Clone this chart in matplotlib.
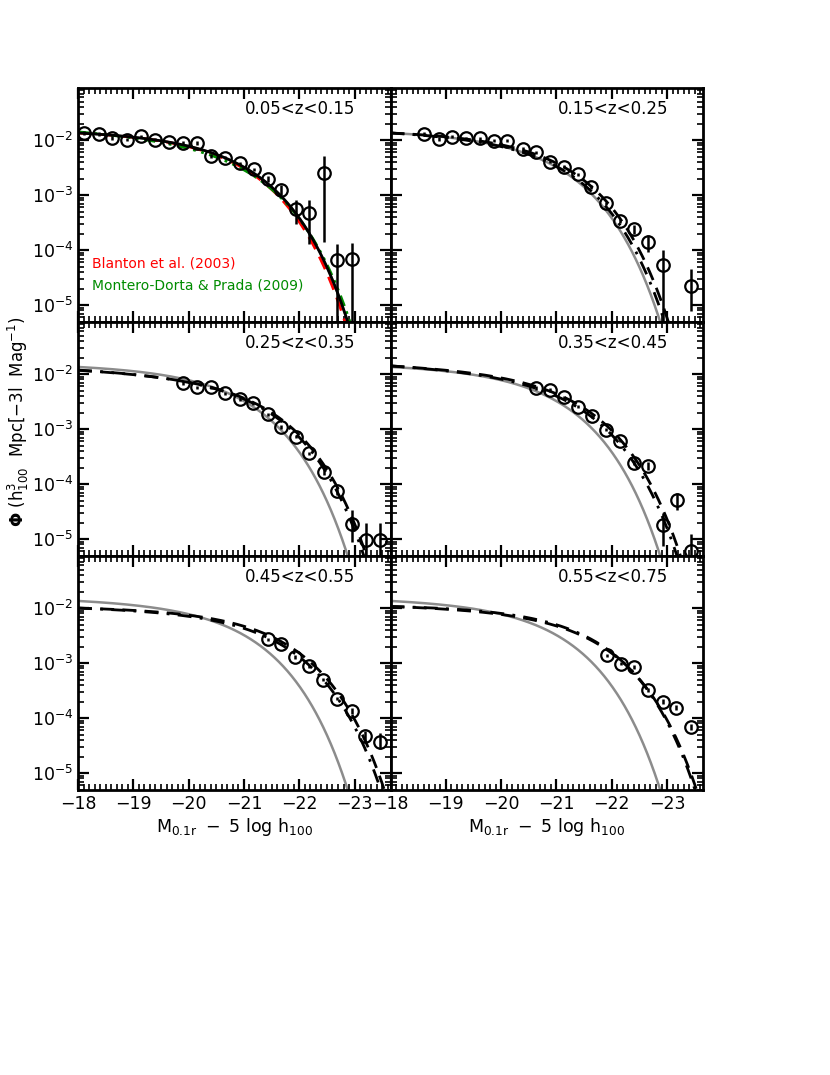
import numpy as np
import matplotlib
matplotlib.use("Agg")
import matplotlib.pyplot as plt
from matplotlib.ticker import MultipleLocator, LogLocator, LogFormatterMathtext, NullFormatter

# ---- data (log10 phi, errors in dex) ----
z_labels = ["0.05<z<0.15", "0.15<z<0.25", "0.25<z<0.35",
            "0.35<z<0.45", "0.45<z<0.55", "0.55<z<0.75"]

M1 = [-18.10, -18.38, -18.62, -18.88, -19.13, -19.39, -19.64, -19.90, -20.16, -20.41,
      -20.65, -20.92, -21.18, -21.43, -21.67, -21.94, -22.18, -22.45, -22.69, -22.96]
L1 = [-1.87, -1.89, -1.96, -1.99, -1.93, -1.99, -2.04, -2.05, -2.05, -2.29,
      -2.32, -2.42, -2.53, -2.70, -2.90, -3.26, -3.33, -2.59, -4.18, -4.17]
LO1 = [0.03] * 13 + [0.06, 0.10, 0.27, 0.55, 1.26, 3.0, 3.0]
HI1 = [0.03] * 13 + [0.05, 0.08, 0.18, 0.24, 0.30, 0.30, 0.30]

M2 = [-18.61, -18.87, -19.12, -19.37, -19.62, -19.88, -20.10, -20.39, -20.63, -20.88,
      -21.13, -21.39, -21.63, -21.89, -22.15, -22.41, -22.66, -22.92, -23.43]
L2 = [-1.89, -1.98, -1.94, -1.97, -1.97, -2.01, -2.01, -2.16, -2.22, -2.39,
      -2.48, -2.62, -2.85, -3.15, -3.47, -3.62, -3.85, -4.27, -4.65]
LO2 = [0.03] * 15 + [0.08, 0.18, 3.0, 0.45]
HI2 = [0.03] * 15 + [0.08, 0.12, 0.27, 0.30]

M3 = [-19.90, -20.15, -20.41, -20.65, -20.92, -21.16, -21.43, -21.67, -21.94, -22.18,
      -22.45, -22.69, -22.96, -23.20, -23.46]
L3 = [-2.16, -2.24, -2.24, -2.35, -2.45, -2.53, -2.73, -2.96, -3.14, -3.44,
      -3.78, -4.12, -4.73, -5.01, -5.01]
LO3 = [0.03] * 10 + [0.05, 0.07, 0.33, 3.0, 3.0]
HI3 = [0.03] * 10 + [0.05, 0.07, 0.26, 0.30, 0.30]

M4 = [-20.63, -20.88, -21.13, -21.39, -21.64, -21.90, -22.15, -22.41, -22.66, -22.92,
      -23.18, -23.43]
L4 = [-2.25, -2.29, -2.42, -2.59, -2.77, -3.01, -3.21, -3.61, -3.67, -4.74,
      -4.29, -5.21]
LO4 = [0.03] * 7 + [0.05, 0.07, 0.38, 0.18, 3.0]
HI4 = [0.03] * 7 + [0.05, 0.07, 0.22, 0.12, 0.30]

M5 = [-21.43, -21.67, -21.93, -22.18, -22.43, -22.68, -22.95, -23.19, -23.46]
L5 = [-2.57, -2.65, -2.89, -3.06, -3.30, -3.65, -3.87, -4.32, -4.43]
LO5 = [0.03] * 6 + [0.05, 0.09, 0.14]
HI5 = [0.03] * 6 + [0.05, 0.09, 0.16]

M6 = [-21.92, -22.16, -22.41, -22.65, -22.92, -23.16, -23.43]
L6 = [-2.86, -3.01, -3.07, -3.49, -3.70, -3.81, -4.16]
LO6 = [0.03, 0.03, 0.03, 0.04, 0.05, 0.05, 0.06]
HI6 = [0.03, 0.03, 0.03, 0.04, 0.05, 0.05, 0.06]

# Schechter parameters (phi*, M*, alpha) estimated from the curves
gray_par = (0.01415, -20.65, -1.05)
blanton_par = (0.01425, -20.60, -1.05)
mdp_par = (0.01137, -20.75, -1.15)
dashed_par = [None,
              (0.01389, -20.80, -1.05),
              (0.01023, -21.05, -1.10),
              (0.01229, -21.05, -1.10),
              (0.01037, -21.35, -1.03),
              (0.01044, -21.35, -1.05)]
dashdot_par = [None,
               (0.01295, -20.75, -1.08),
               (0.01040, -21.00, -1.10),
               (0.01172, -21.00, -1.12),
               (0.00979, -21.30, -1.05),
               (0.01148, -21.30, -1.02)]

panels = [(M1, L1, LO1, HI1), (M2, L2, LO2, HI2), (M3, L3, LO3, HI3),
          (M4, L4, LO4, HI4), (M5, L5, LO5, HI5), (M6, L6, LO6, HI6)]


def schechter(M, par):
    phistar, Mstar, alpha = par
    x = 10 ** (-0.4 * (M - Mstar))
    return 0.4 * np.log(10) * phistar * x ** (alpha + 1) * np.exp(-x)


Mgrid = np.linspace(-18.0, -23.8, 600)

fig, axes = plt.subplots(3, 2, figsize=(8.3, 10.75), dpi=100)
fig.subplots_adjust(left=0.094, right=0.847, top=0.918, bottom=0.265,
                    wspace=0, hspace=0)

for i, ax in enumerate(axes.flat):
    M, L, lo, hi = [np.array(a) for a in panels[i]]
    ax.set_yscale("log")

    ax.plot(Mgrid, schechter(Mgrid, gray_par), color="#8c8c8c", lw=1.8, zorder=1)
    if i == 0:
        ax.plot(Mgrid, schechter(Mgrid, blanton_par), color="red", lw=2,
                ls=(0, (5, 3)), zorder=2)
        ax.plot(Mgrid, schechter(Mgrid, mdp_par), color="#008c00", lw=2,
                ls=(0, (4, 2, 1, 2, 1, 2)), zorder=2)
        ax.plot(Mgrid, schechter(Mgrid, gray_par), color="black", lw=2, zorder=3)
    else:
        ax.plot(Mgrid, schechter(Mgrid, dashed_par[i]), color="black", lw=2,
                ls=(0, (5, 3)), zorder=2)
        ax.plot(Mgrid, schechter(Mgrid, dashdot_par[i]), color="black", lw=2,
                ls=(0, (5, 3, 1, 3)), zorder=2)

    phi = 10 ** L
    yerr = [phi - 10 ** (L - lo), 10 ** (L + hi) - phi]
    ax.errorbar(M, phi, yerr=yerr, fmt="o", ms=9, mfc="none", mec="black",
                mew=1.6, ecolor="black", elinewidth=1.8, capsize=0, zorder=4)

    ax.set_xlim(-18.0, -23.65)
    ax.set_ylim(10 ** -5.31, 10 ** -1.055)
    ax.xaxis.set_major_locator(MultipleLocator(1))
    ax.xaxis.set_minor_locator(MultipleLocator(0.1))
    ax.yaxis.set_major_locator(LogLocator(base=10, numticks=10))
    ax.yaxis.set_minor_locator(LogLocator(base=10, subs=np.arange(2, 10), numticks=10))
    ax.yaxis.set_major_formatter(LogFormatterMathtext())
    ax.yaxis.set_minor_formatter(NullFormatter())
    ax.tick_params(which="both", direction="in", top=True, right=True, labelsize=12.5)
    ax.tick_params(which="major", length=8, width=1.6)
    ax.tick_params(which="minor", length=4, width=1.2)
    for s in ax.spines.values():
        s.set_linewidth(2)

    if i % 2 == 1:
        ax.set_yticklabels([])
    if i < 4:
        ax.set_xticklabels([])
    else:
        ax.set_xlabel(r"$\mathrm{M_{0.1r}\ -\ 5\ log\ h_{100}}$", fontsize=12.5, labelpad=2)

    ax.text(0.535, 0.91, z_labels[i], transform=ax.transAxes, fontsize=12,
            ha="left", va="center")

axes[0, 0].text(0.044, 0.252, "Blanton et al. (2003)", color="red", fontsize=10,
                transform=axes[0, 0].transAxes, va="center")
axes[0, 0].text(0.044, 0.158, "Montero-Dorta & Prada (2009)", color="#008c00", fontsize=10,
                transform=axes[0, 0].transAxes, va="center")

fig.text(0.022, 0.608, r"$\mathbf{\Phi}\ \mathrm{(h^3_{100}\ \ Mpc[-3l\ \ Mag^{-1})}$",
         rotation=90, fontsize=12, ha="center", va="center")

fig.savefig("out.png", dpi=100)
